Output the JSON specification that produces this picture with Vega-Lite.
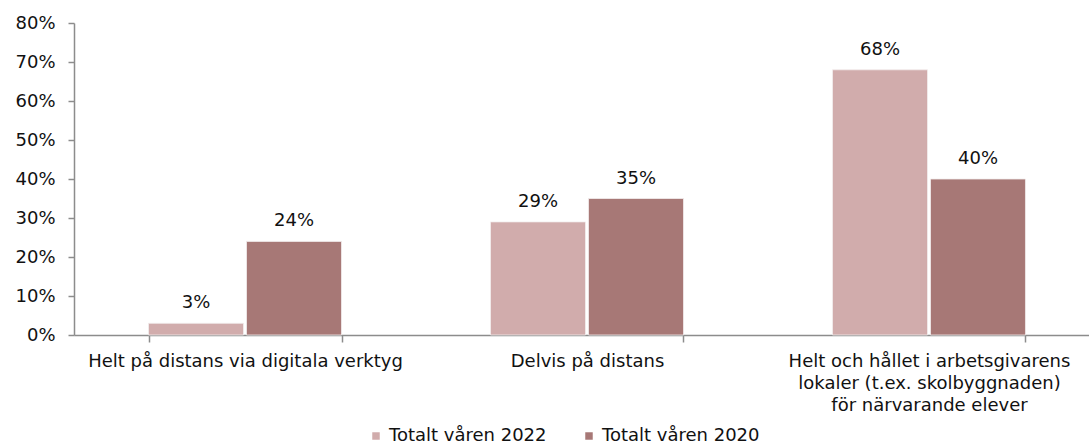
{
  "$schema": "https://vega.github.io/schema/vega-lite/v6.json",
  "autosize": {"type": "none"},
  "width": 1015,
  "height": 312,
  "padding": {"left": 74, "top": 23, "right": 0, "bottom": 109},
  "background": "white",
  "config": {
    "font": "DejaVu Sans",
    "view": {"stroke": null},
    "axis": {"labelFont": "DejaVu Sans", "labelFontSize": 18, "labelColor": "#111111", "domainColor": "#8c8c8c", "tickColor": "#8c8c8c", "domainWidth": 1.5, "tickWidth": 1.5, "grid": false, "title": null}
  },
  "data": {
    "values": [
      {"kategori": "Helt på distans via digitala verktyg", "serie": "Totalt våren 2022", "andel": 0.03},
      {"kategori": "Helt på distans via digitala verktyg", "serie": "Totalt våren 2020", "andel": 0.24},
      {"kategori": "Delvis på distans", "serie": "Totalt våren 2022", "andel": 0.29},
      {"kategori": "Delvis på distans", "serie": "Totalt våren 2020", "andel": 0.35},
      {"kategori": "Helt och hållet i arbetsgivarens lokaler (t.ex. skolbyggnaden) för närvarande elever", "serie": "Totalt våren 2022", "andel": 0.68},
      {"kategori": "Helt och hållet i arbetsgivarens lokaler (t.ex. skolbyggnaden) för närvarande elever", "serie": "Totalt våren 2020", "andel": 0.40}
    ]
  },
  "encoding": {
    "x": {
      "field": "kategori", "type": "nominal", "sort": null,
      "scale": {"range": [0, 1026], "paddingInner": 0.4357, "paddingOuter": 0.2179},
      "axis": {
        "labelAngle": 0, "tickBand": "extent", "tickSize": 7, "labelPadding": 10, "labelBaseline": "top", "labelLineHeight": 22, "labelLimit": 0,
        "labelExpr": "datum.value == 'Helt och hållet i arbetsgivarens lokaler (t.ex. skolbyggnaden) för närvarande elever' ? ['Helt och hållet i arbetsgivarens', 'lokaler (t.ex. skolbyggnaden)', 'för närvarande elever'] : datum.value"
      }
    },
    "xOffset": {"field": "serie", "type": "nominal", "sort": ["Totalt våren 2022", "Totalt våren 2020"], "scale": {"paddingInner": 0.0306, "paddingOuter": 0}},
    "y": {
      "field": "andel", "type": "quantitative",
      "scale": {"domain": [0, 0.8], "nice": false},
      "axis": {"format": ".0%", "values": [0, 0.1, 0.2, 0.3, 0.4, 0.5, 0.6, 0.7, 0.8], "tickSize": 6, "labelPadding": 13}
    }
  },
  "layer": [
    {
      "mark": {"type": "bar", "stroke": "#f2eded", "strokeWidth": 0.8},
      "encoding": {
        "color": {
          "field": "serie", "type": "nominal", "sort": ["Totalt våren 2022", "Totalt våren 2020"],
          "scale": {"domain": ["Totalt våren 2022", "Totalt våren 2020"], "range": ["#d1acac", "#a77876"]},
          "legend": {
            "title": null, "orient": "none", "direction": "horizontal", "legendX": 293, "legendY": 404, "padding": 0,
            "symbolType": "square", "symbolSize": 56, "symbolStrokeWidth": 0, "labelOffset": 4, "columnPadding": 33,
            "labelFont": "DejaVu Sans", "labelFontSize": 18, "labelColor": "#111111"
          }
        }
      }
    },
    {
      "mark": {"type": "text", "baseline": "alphabetic", "dy": -15, "fontSize": 18, "color": "#111111", "font": "DejaVu Sans"},
      "encoding": {
        "text": {"field": "andel", "type": "quantitative", "format": ".0%"}
      }
    }
  ]
}
